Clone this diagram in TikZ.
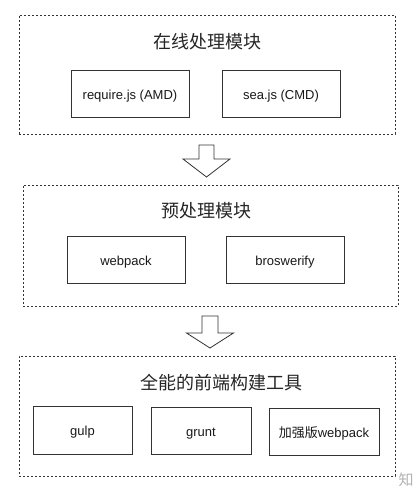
\documentclass[tikz,border=0pt]{standalone}
\usepackage{fontspec}
\setmainfont{Liberation Sans}
\newfontfamily\cjk{Noto Sans CJK SC}
\usetikzlibrary{calc}
\definecolor{linec}{HTML}{333333}
\tikzset{
  groupbox/.style={draw=linec, line width=0.8pt, dash pattern=on 2pt off 2pt, inner sep=0pt},
  itembox/.style={draw=linec, line width=0.9pt, inner sep=0pt, text height=11pt, text depth=0pt, font=\fontsize{13}{15}\selectfont, text=black!90},
  grouptitle/.style={font=\cjk\fontsize{18}{20}\selectfont, text=black!85, inner sep=0pt},
  blockarrow/.style={draw=linec, line width=0.8pt, fill=white, line join=miter}
}
\begin{document}
\begin{tikzpicture}[x=1pt,y=-1pt]
\useasboundingbox (0,0) rectangle (413,488);
\fill[white] (0,0) rectangle (413,488);
% group 1
\node[groupbox, minimum width=376pt, minimum height=119pt] (g1) at (207,74.5) {};
\node[grouptitle] (t1) at (207,42) {在线处理模块};
\node[itembox, minimum width=118pt, minimum height=47pt] (a1) at (130,93.5) {require.js (AMD)};
\node[itembox, minimum width=118pt, minimum height=47pt] (a2) at (281,93.5) {sea.js (CMD)};
% group 2
\node[groupbox, minimum width=375pt, minimum height=121pt] (g2) at (210.5,245.5) {};
\node[grouptitle] (t2) at (206,211) {预处理模块};
\node[itembox, minimum width=118pt, minimum height=47pt] (b1) at (126,259.5) {webpack};
\node[itembox, minimum width=118pt, minimum height=47pt] (b2) at (285,259.5) {broswerify};
% group 3
\node[groupbox, minimum width=376pt, minimum height=120pt] (g3) at (207,416) {};
\node[grouptitle] (t3) at (221,383) {全能的前端构建工具};
\node[itembox, minimum width=99pt, minimum height=48pt] (c1) at (82.5,430) {gulp};
\node[itembox, minimum width=100pt, minimum height=47pt] (c2) at (201,430.5) {grunt};
\node[itembox, minimum width=110pt, minimum height=47pt] (c3) at (324,431.5) {{\cjk 加强版}webpack};
% arrow 1
\coordinate (p1) at (206.5,145);
\draw[blockarrow] ($(p1)+(-7.5,0)$) -- ($(p1)+(7.5,0)$) -- ($(p1)+(7.5,14)$) -- ($(p1)+(23.5,14)$)
  -- ($(p1)+(0,32)$) -- ($(p1)+(-23.5,14)$) -- ($(p1)+(-7.5,14)$) -- cycle;
% arrow 2
\coordinate (p2) at (210,316);
\draw[blockarrow] ($(p2)+(-8,0)$) -- ($(p2)+(8,0)$) -- ($(p2)+(8,17)$) -- ($(p2)+(23.5,17)$)
  -- ($(p2)+(0,32)$) -- ($(p2)+(-23.5,17)$) -- ($(p2)+(-8,17)$) -- cycle;
% watermark
\node[font=\cjk\fontsize{15}{15}\selectfont, text=black!30, inner sep=0pt] (wm) at (406,480) {知};
\end{tikzpicture}
\end{document}
